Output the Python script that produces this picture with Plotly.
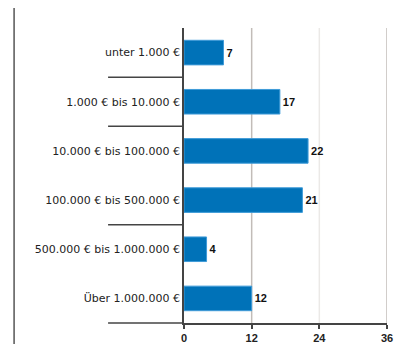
import plotly.graph_objects as go

# Wealth brackets and counts
categories = [
    "unter 1.000 €",
    "1.000 € bis 10.000 €",
    "10.000 € bis 100.000 €",
    "100.000 € bis 500.000 €",
    "500.000 € bis 1.000.000 €",
    "Über 1.000.000 €",
]
values = [7, 17, 22, 21, 4, 12]
x_ticks = [0, 12, 24, 36]
# category boundaries that carry a separator line on the left
separators = [0.5, 1.5, 3.5, 5.5]

BAR = "#0072B8"
AXIS = "#444444"
n = len(categories)


def cat_to_paper(pos):
    # category axis runs top-to-bottom over [-0.5, n - 0.5]
    return (n - 0.5 - pos) / n


fig = go.Figure()
fig.add_trace(go.Bar(
    x=values,
    y=categories,
    orientation="h",
    width=0.5,
    marker=dict(color=BAR, line=dict(color="#3f9bd8", width=1)),
    text=[str(v) for v in values],
    textposition="outside",
    textfont=dict(family="Liberation Sans", size=11, color="#111111", weight="bold"),
    cliponaxis=False,
    hoverinfo="skip",
))

shapes = []
# vertical gridlines (the middle one is much lighter)
for t in x_ticks[1:]:
    shapes.append(dict(
        type="line", xref="x", yref="paper", x0=t, x1=t, y0=0, y1=1,
        line=dict(color="#ebe9e7" if t == 24 else "#c2bcb8", width=1.5),
        layer="below",
    ))
# separator lines extending left from the category axis
for s in separators:
    yp = cat_to_paper(s)
    shapes.append(dict(
        type="line", xref="paper", yref="paper",
        x0=-0.374, x1=0, y0=yp, y1=yp,
        line=dict(color=AXIS, width=1.5),
    ))
# frame line at the far left
shapes.append(dict(
    type="line", xref="paper", yref="paper",
    x0=-0.837, x1=-0.837, y0=-0.08, y1=1.068,
    line=dict(color="#555555", width=1.5),
))

fig.update_layout(
    width=402,
    height=344,
    margin=dict(l=184, r=15, t=28, b=21),
    paper_bgcolor="white",
    plot_bgcolor="white",
    showlegend=False,
    shapes=shapes,
    xaxis=dict(
        range=[0, 36],
        tickvals=x_ticks,
        ticks="outside",
        ticklen=4,
        tickcolor=AXIS,
        tickwidth=1.5,
        showgrid=False,
        zeroline=False,
        showline=True,
        linecolor=AXIS,
        linewidth=1.5,
        automargin=False,
        tickfont=dict(family="Liberation Sans", size=11, color="#222222", weight="bold"),
        fixedrange=True,
    ),
    yaxis=dict(
        categoryorder="array",
        categoryarray=categories,
        autorange="reversed",
        showline=True,
        linecolor=AXIS,
        linewidth=1.5,
        ticks="",
        showgrid=False,
        zeroline=False,
        automargin=False,
        tickfont=dict(family="DejaVu Sans", size=11, color="#222222"),
        fixedrange=True,
    ),
)

fig.write_html("out.html", config={"displayModeBar": False})
